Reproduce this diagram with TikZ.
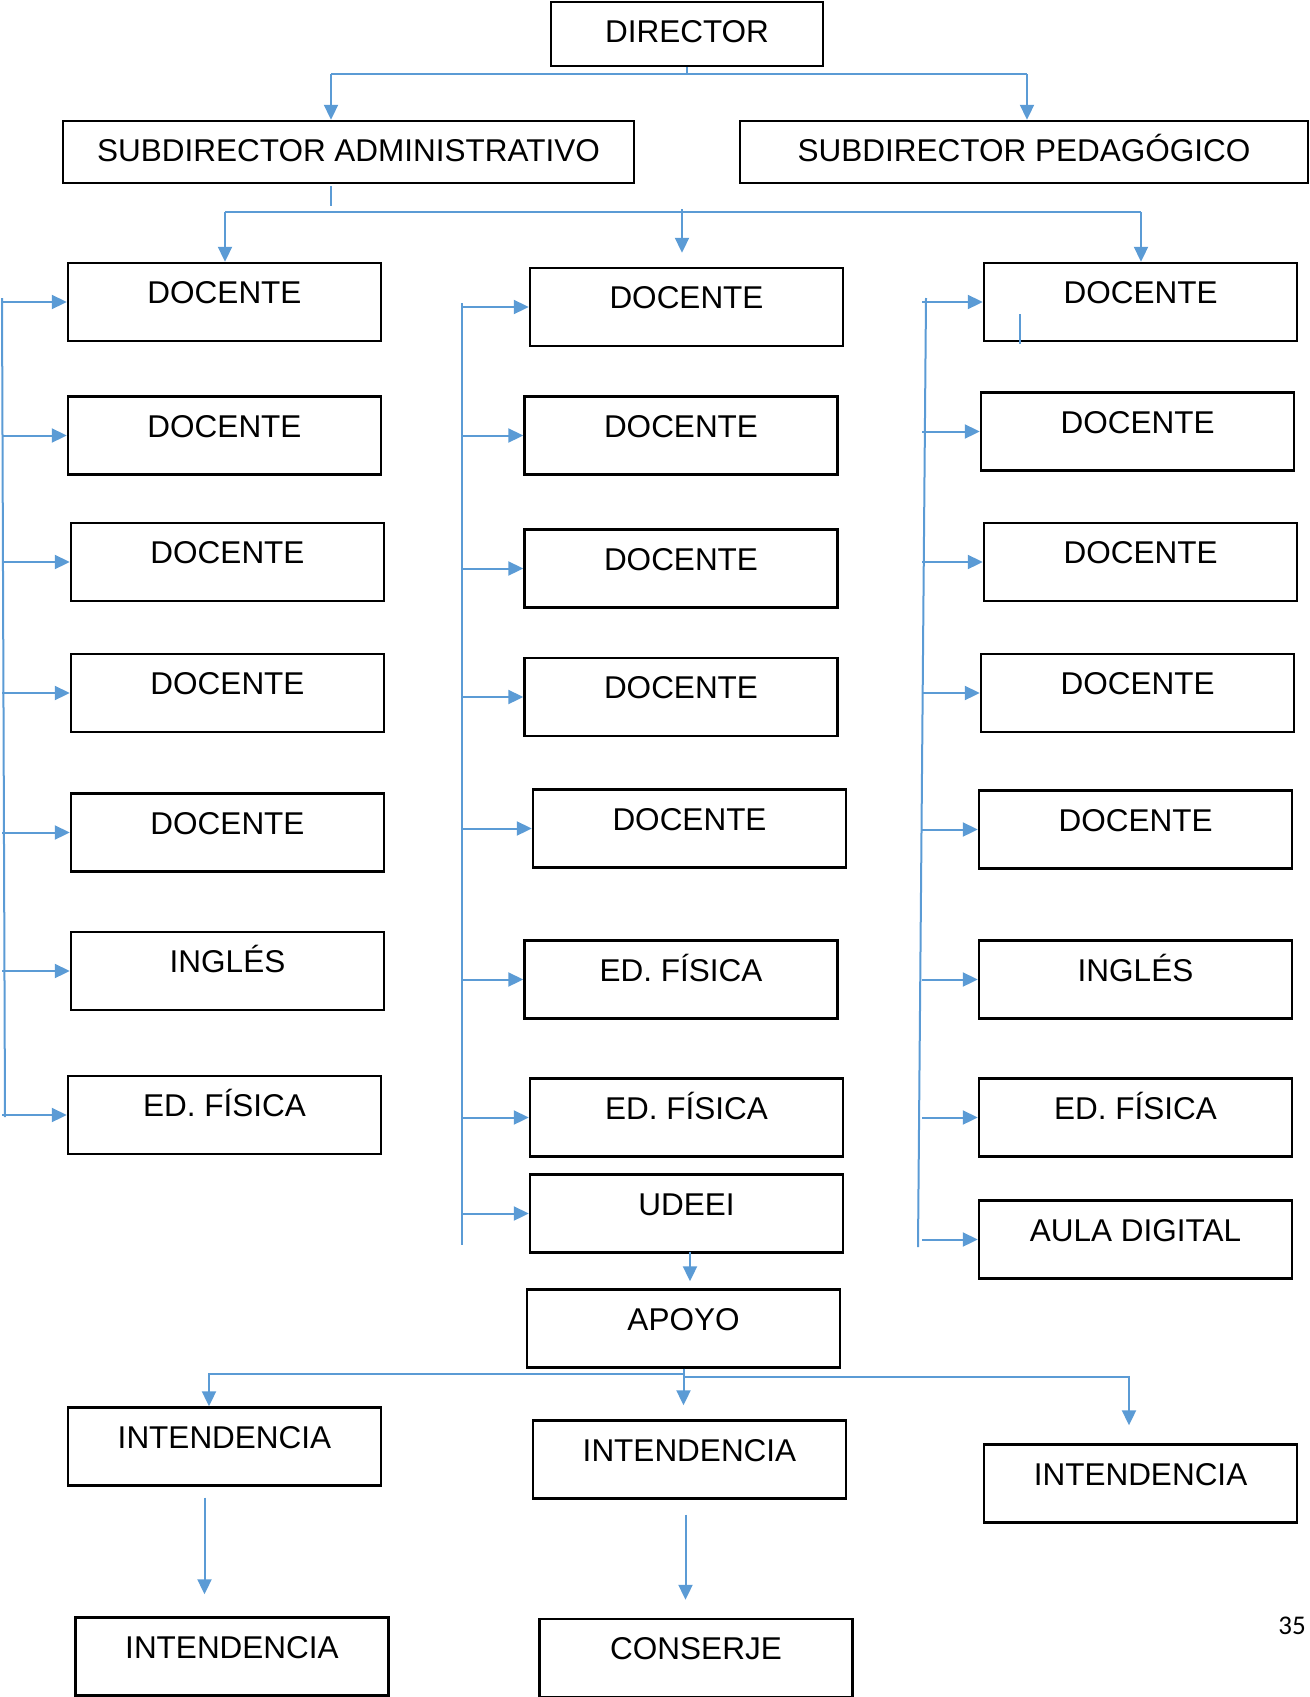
\documentclass[tikz,border=0pt]{standalone}
\usepackage{fontspec}
\setmainfont{Liberation Sans}
\newfontfamily\pagina{Carlito}
\usetikzlibrary{arrows.meta}
\definecolor{azul}{RGB}{91,155,213}
\tikzset{
  caja/.style={draw,line width=1.2pt,inner sep=0pt,minimum width=156.5pt,
    text height=20.3pt,text depth=18.7pt,font=\fontsize{15.75}{18}\selectfont},
  jefe/.style={caja,text height=20pt,text depth=11pt},
  linea/.style={azul,line width=1pt},
  flecha/.style={linea,-{Triangle[length=7.5pt,width=7pt]}}
}
\begin{document}
\begin{tikzpicture}[x=0.5pt,y=-0.5pt]
\useasboundingbox (0,0) rectangle (1310,1697);
%directivos
\node[jefe,minimum width=136pt,text depth=12pt] (dir) at (687,34) {DIRECTOR};
\node[jefe,minimum width=285.5pt] (sadm) at (348.5,152) {SUBDIRECTOR ADMINISTRATIVO};
\node[jefe,minimum width=284pt] (sped) at (1024,152) {SUBDIRECTOR PEDAGÓGICO};
\coordinate (d1) at (331,74);
\coordinate (d2) at (1027,74);
\draw[linea] (dir.south) -- (dir.south |- d1);
\draw[linea] (d1) -- (d2);
\draw[flecha] (d1) -- (d1 |- sadm.north);
\draw[flecha] (d2) -- (d2 |- sped.north);
%docentes
\foreach \i/\x/\y/\t in {1/224.5/302/DOCENTE,2/224.5/435.5/DOCENTE,3/227.5/562/DOCENTE,
  4/227.5/693/DOCENTE,5/227.5/832.5/DOCENTE,6/227.5/971/INGLÉS,7/224.5/1115/ED. FÍSICA}
  \node[caja] (l\i) at (\x,\y) {\t};
\foreach \i/\x/\y/\t in {1/686.5/307/DOCENTE,2/681/435.5/DOCENTE,3/681/568.5/DOCENTE,
  4/681/697/DOCENTE,5/689.5/828.5/DOCENTE,6/681/979.5/ED. FÍSICA,7/686.5/1117.5/ED. FÍSICA,
  8/686.5/1213.5/UDEEI}
  \node[caja] (m\i) at (\x,\y) {\t};
\foreach \i/\x/\y/\t in {1/1140.5/302/DOCENTE,2/1137.5/431.5/DOCENTE,3/1140.5/562/DOCENTE,
  4/1137.5/693/DOCENTE,5/1135.5/829.5/DOCENTE,6/1135.5/979.5/INGLÉS,7/1135.5/1117.5/ED. FÍSICA,
  8/1135.5/1239.5/AULA DIGITAL}
  \node[caja] (r\i) at (\x,\y) {\t};
%reparto
\coordinate (s0) at (331,206);
\draw[linea,line width=0.7pt] ([yshift=-1pt]s0 |- sadm.south) -- (s0);
\coordinate (h1) at (225,212);
\coordinate (h2) at (1141,212);
\coordinate (h3) at (682,209);
\draw[linea] (h1) -- (h2);
\draw[flecha] (h1) -- (h1 |- l1.north);
\draw[flecha] (h2) -- (h2 |- r1.north);
\draw[flecha,shorten >=7pt] (h3) -- (h3 |- m1.north);
%lineas verticales
\coordinate (lt) at (2,298);
\coordinate (lb) at (5,1117);
\draw[linea] (lt) -- (lb);
\foreach \i in {1,...,7}
  \draw[flecha] (l\i.west -| lt) -- (l\i.west);
\coordinate (mt) at (462,303);
\coordinate (mb) at (462,1245);
\draw[linea] (mt) -- (mb);
\foreach \i in {1,...,8}
  \draw[flecha] (m\i.west -| mt) -- (m\i.west);
\coordinate (rt) at (926,298);
\coordinate (rb) at (918,1247);
\draw[linea] (rt) -- (rb);
\foreach \i in {1,...,8}
  \draw[flecha] (r\i.west -| 922,0) -- (r\i.west);
\coordinate (r0) at (1020,314);
\draw[linea,line width=0.7pt] (r0) -- (1020,344);
%apoyo e intendencia
\node[caja] (apoyo) at (683.5,1328.5) {APOYO};
\draw[flecha,shorten <=-1pt,shorten >=3.5pt] (m8.south -| 690,0) -- (apoyo.north -| 690,0);
\node[caja] (i1) at (224.5,1446.5) {INTENDENCIA};
\node[caja] (i2) at (689.5,1459.5) {INTENDENCIA};
\node[caja] (i3) at (1140.5,1483.5) {INTENDENCIA};
\node[caja] (i4) at (232,1656.5) {INTENDENCIA};
\node[caja] (cons) at (696,1658) {CONSERJE};
\coordinate (b1) at (209,1374);
\coordinate (b2) at (1129,1377);
\draw[linea] (apoyo.south) -- (apoyo.south |- b2);
\draw[flecha] (apoyo.south |- b1) -- (b1) -- (b1 |- i1.north);
\draw[flecha,shorten >=7pt] (apoyo.south) -- (apoyo.south |- i2.north);
\draw[flecha,shorten >=9pt] (apoyo.south |- b2) -- (b2) -- (b2 |- i3.north);
\draw[flecha,shorten <=5.5pt,shorten >=11pt] ([xshift=-10pt]i1.south) -- ([xshift=-10pt]i1.south |- i4.north);
\draw[flecha,shorten <=7.5pt,shorten >=9pt] ([xshift=-2pt]i2.south) -- ([xshift=-2pt]i2.south |- cons.north);
\node[font=\pagina\fontsize{13.5}{16}\selectfont] (pag) at (1292,1626) {35};
\end{tikzpicture}
\end{document}
